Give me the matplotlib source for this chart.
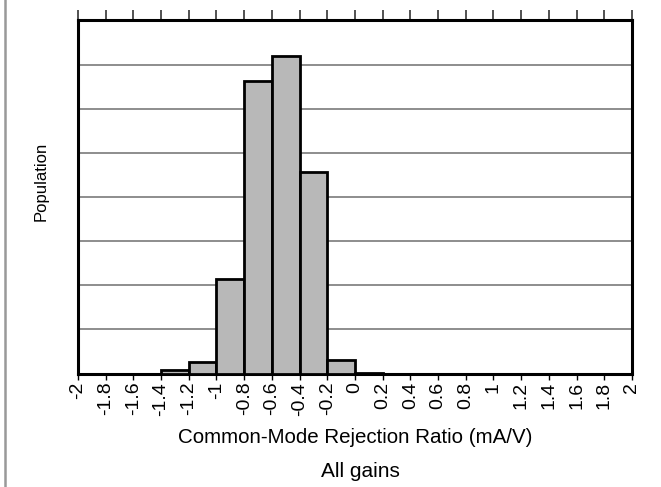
import matplotlib
matplotlib.use('Agg')
import matplotlib.pyplot as plt
from matplotlib.lines import Line2D

plt.rcParams['font.family'] = ['Liberation Sans', 'DejaVu Sans']

# histogram bins (left edges) and relative population per bin
bin_left = [-1.4, -1.2, -1.0, -0.8, -0.6, -0.4, -0.2, 0.0]
population = [0.07, 0.26, 2.15, 6.63, 7.19, 4.56, 0.31, 0.02]
bin_width = 0.2

tick_values = [-2, -1.8, -1.6, -1.4, -1.2, -1, -0.8, -0.6, -0.4, -0.2, 0,
               0.2, 0.4, 0.6, 0.8, 1, 1.2, 1.4, 1.6, 1.8, 2]
tick_labels = ['-2', '-1.8', '-1.6', '-1.4', '-1.2', '-1', '-0.8', '-0.6', '-0.4',
               '-0.2', '0', '0.2', '0.4', '0.6', '0.8', '1', '1.2', '1.4', '1.6',
               '1.8', '2']

fig = plt.figure(figsize=(6.61, 4.87), dpi=100)
ax = fig.add_axes([0.118, 0.233, 0.838, 0.725])

ax.bar(bin_left, population, width=bin_width, align='edge',
       color='#b8b8b8', edgecolor='black', linewidth=2, zorder=3)

ax.set_xlim(-2, 2)
ax.set_ylim(0, 8)
ax.set_yticks(range(1, 8))
ax.set_yticklabels([])
ax.tick_params(axis='y', length=0)
ax.grid(True, axis='y', color='#7a7a7a', linewidth=1.2, zorder=0)

ax.set_xticks(tick_values)
ax.set_xticklabels(tick_labels, rotation=90, fontsize=14)
ax.tick_params(axis='x', direction='out', length=4, width=1, pad=2,
               top=False, bottom=True, labeltop=False)

# longer ticks on the top edge
ax_top = ax.secondary_xaxis('top')
ax_top.set_xticks(tick_values)
ax_top.set_xticklabels([])
ax_top.tick_params(direction='out', length=7.5, width=1.2, color='#333333')
ax_top.spines['top'].set_visible(False)

for sp in ax.spines.values():
    sp.set_linewidth(2.2)
    sp.set_color('black')

ax.set_xlabel('Common-Mode Rejection Ratio (mA/V)', fontsize=14.8, labelpad=9)
fig.text(0.062, 0.628, 'Population', rotation=90, ha='center', va='center',
         fontsize=12)
fig.text(0.545, 0.031, 'All gains', ha='center', va='center', fontsize=15)

# thin border on the left edge of the figure
fig.add_artist(Line2D([0.0075, 0.0075], [0, 1], transform=fig.transFigure,
                      color='#999999', linewidth=1.8))

fig.savefig('out.png', dpi=100)
